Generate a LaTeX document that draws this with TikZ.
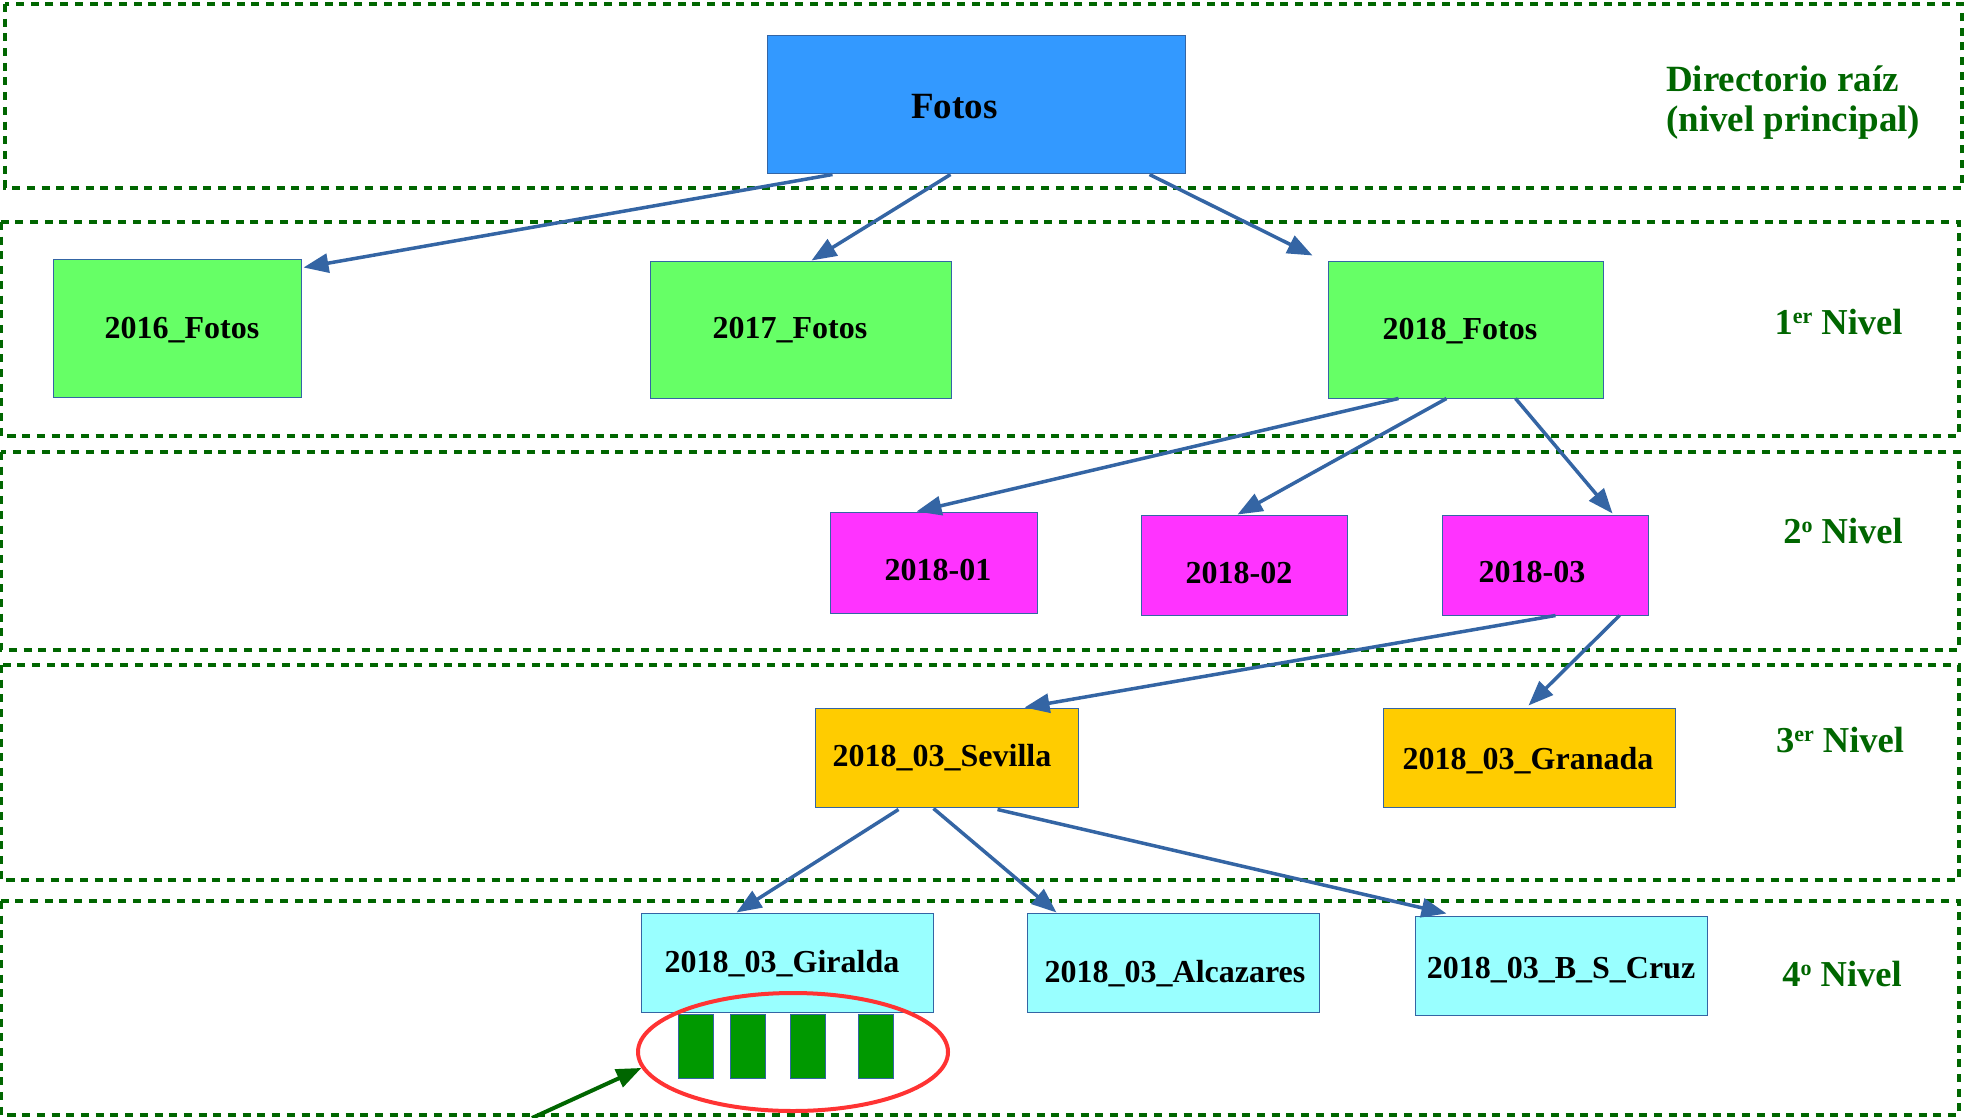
\documentclass[tikz,border=0pt]{standalone}
\usepackage{fontspec}
\setmainfont{Liberation Serif}
\usetikzlibrary{arrows.meta,shapes.geometric}
\definecolor{band}{HTML}{006600}
\definecolor{lineblue}{HTML}{3465A4}
\definecolor{cFotos}{HTML}{3399FF}
\definecolor{cGreen}{HTML}{66FF66}
\definecolor{cMag}{HTML}{FF33FF}
\definecolor{cOrange}{HTML}{FFCC00}
\definecolor{cCyan}{HTML}{99FFFF}
\definecolor{cFile}{HTML}{009900}
\definecolor{cRed}{HTML}{FF3333}
\newcommand\mysup[1]{\raisebox{11pt}{\fontsize{22}{22}\selectfont #1}}
\begin{document}
\begin{tikzpicture}[x=1pt,y=-1pt,
 bandbox/.style={draw=band, line width=3.4pt, dash pattern=on 8pt off 6.7pt},
 box/.style={draw=lineblue, line width=1pt, inner sep=0pt, rectangle},
 lbl/.style={anchor=base, inner sep=0pt, font=\fontsize{32}{38}\selectfont\bfseries},
 lvl/.style={anchor=base, inner sep=0pt, text=band, font=\fontsize{36.5}{43}\selectfont\bfseries},
 arr/.style={draw=lineblue, line width=3.5pt, -{Triangle[length=25pt,width=19pt]}},
 garr/.style={draw=band, line width=4pt, -{Triangle[length=25pt,width=19pt]}},
 filebox/.style={draw=lineblue, line width=1pt, fill=cFile, inner sep=0pt, minimum width=35pt, minimum height=64pt},
]
\useasboundingbox (0,0) rectangle (1964,1118);

% level bands
\draw[bandbox] (5,4) rectangle (1962,188);
\draw[bandbox] (1,222) rectangle (1959,436);
\draw[bandbox] (1,452) rectangle (1959,650);
\draw[bandbox] (1,665) rectangle (1959,880);
\draw[bandbox] (1,901) rectangle (1959,1115);

% boxes
\node[box, fill=cFotos, minimum width=418pt, minimum height=138pt] (fotos) at (976,105) {};
\node[box, fill=cGreen, minimum width=248pt, minimum height=138pt] (f16) at (177,328) {};
\node[box, fill=cGreen, minimum width=301pt, minimum height=137pt] (f17) at (800.5,329.5) {};
\node[box, fill=cGreen, minimum width=275pt, minimum height=137pt] (f18) at (1465.5,329.5) {};
\node[box, fill=cMag, minimum width=207pt, minimum height=101pt] (m01) at (933.5,562.5) {};
\node[box, fill=cMag, minimum width=206pt, minimum height=100pt] (m02) at (1244,565) {};
\node[box, fill=cMag, minimum width=206pt, minimum height=100pt] (m03) at (1545,565) {};
\node[box, fill=cOrange, minimum width=263pt, minimum height=99pt] (sev) at (946.5,757.5) {};
\node[box, fill=cOrange, minimum width=292pt, minimum height=99pt] (gra) at (1529,757.5) {};
\node[box, fill=cCyan, minimum width=292pt, minimum height=99pt] (gir) at (787,962.5) {};
\node[box, fill=cCyan, minimum width=292pt, minimum height=99pt] (alc) at (1173,962.5) {};
\node[box, fill=cCyan, minimum width=292pt, minimum height=99pt] (bsc) at (1561,965.5) {};

% box texts
\node[lbl, font=\fontsize{37}{44}\selectfont\bfseries] (tfotos) at (954.5,119) {Fotos};
\node[lbl] (t16) at (182,338) {2016\_Fotos};
\node[lbl] (t17) at (790,338) {2017\_Fotos};
\node[lbl] (t18) at (1460,339) {2018\_Fotos};
\node[lbl] (t01) at (938,580) {2018-01};
\node[lbl] (t02) at (1239,583) {2018-02};
\node[lbl] (t03) at (1532,582) {2018-03};
\node[lbl] (tsev) at (942,766) {2018\_03\_Sevilla};
\node[lbl] (tgra) at (1528,769) {2018\_03\_Granada};
\node[lbl] (tgir) at (782,972) {2018\_03\_Giralda};
\node[lbl] (talc) at (1175,982) {2018\_03\_Alcazares};
\node[lbl] (tbsc) at (1561,978) {2018\_03\_B\_S\_Cruz};

% level labels
\node[lvl, anchor=base west, font=\fontsize{37}{44}\selectfont\bfseries] (root1) at (1666,92) {Directorio raíz};
\node[lvl, anchor=base west, font=\fontsize{37}{44}\selectfont\bfseries] (root2) at (1666,132) {(nivel principal)};
\node[lvl] (lv1) at (1838.5,334) {1\mysup{er} Nivel};
\node[lvl] (lv2) at (1843,543) {2\mysup{o} Nivel};
\node[lvl] (lv3) at (1840,752) {3\mysup{er} Nivel};
\node[lvl] (lv4) at (1842,986) {4\mysup{o} Nivel};

% connectors
\draw[arr] ([xshift=66pt]fotos.south west) -- ([xshift=2pt,yshift=-9pt]f16.north east);
\draw[arr] ([xshift=184pt]fotos.south west) -- ([xshift=162pt]f17.north west);
\draw[arr] ([xshift=383pt]fotos.south west) -- ([xshift=-15pt,yshift=5pt]f18.north west);
\draw[arr] ([xshift=71pt]f18.south west) -- ([xshift=87pt]m01.north west);
\draw[arr] ([xshift=119pt]f18.south west) -- ([xshift=97pt]m02.north west);
\draw[arr] ([xshift=188pt]f18.south west) -- ([xshift=171pt,yshift=1pt]m03.north west);
\draw[arr] ([xshift=114pt]m03.south west) -- ([xshift=210pt]sev.north west);
\draw[arr] ([xshift=178pt]m03.south west) -- ([xshift=146pt,yshift=2pt]gra.north west);
\draw[arr] ([xshift=84pt,yshift=-2pt]sev.south west) -- ([xshift=96pt]gir.north west);
\draw[arr] ([xshift=119pt,yshift=-1pt]sev.south west) -- ([xshift=30pt]alc.north west);
\draw[arr] ([xshift=183pt,yshift=-2pt]sev.south west) -- ([xshift=32pt,yshift=2pt]bsc.north west);

% files
\node[filebox] (file1) at (695.5,1046) {};
\node[filebox] (file2) at (747.5,1046) {};
\node[filebox] (file3) at (807.5,1046) {};
\node[filebox] (file4) at (875.5,1046) {};

% ellipse and pointer
\node[ellipse, draw=cRed, line width=4pt, minimum width=310pt, minimum height=118pt, inner sep=0pt] (ell) at (793,1052) {};
\coordinate (gstart) at (532,1118);
\draw[garr] (gstart) -- (ell.186);
\end{tikzpicture}
\end{document}
